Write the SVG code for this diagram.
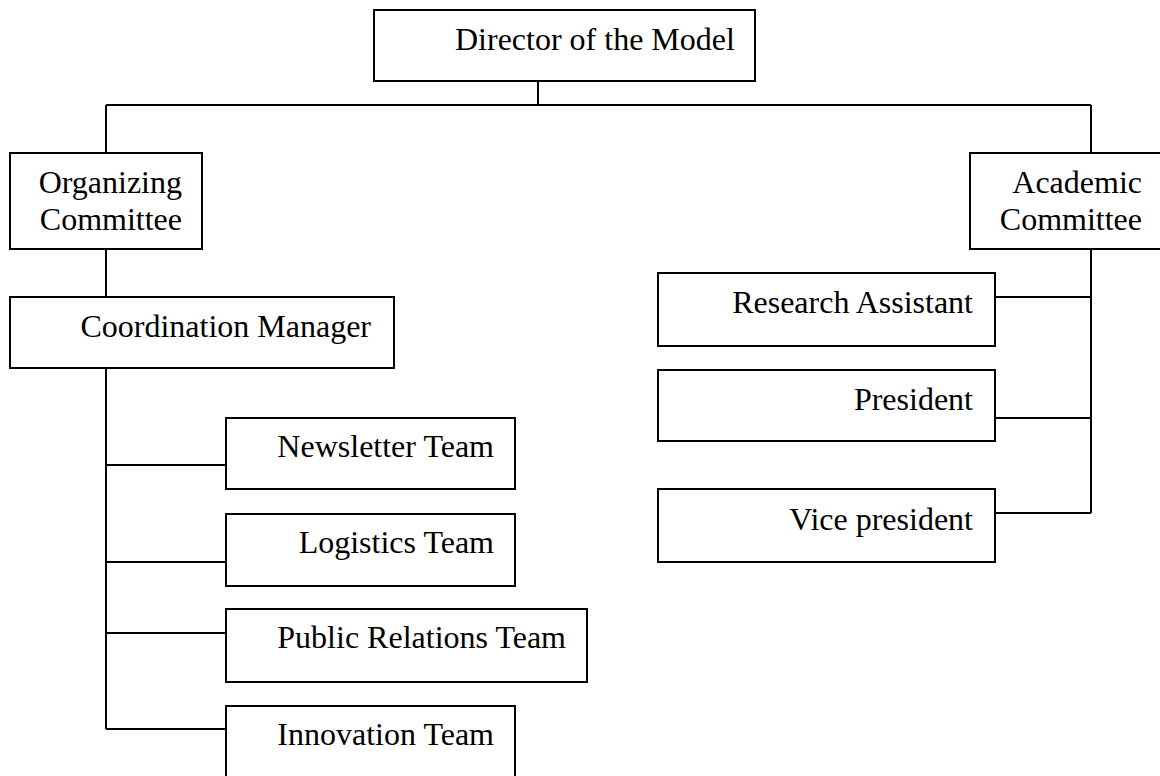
<svg xmlns="http://www.w3.org/2000/svg" width="1160" height="776" viewBox="0 0 1160 776">
<style>
.box{fill:#fff;stroke:#000;stroke-width:2}
.ln{fill:none;stroke:#000;stroke-width:2}
text{font-family:"Liberation Serif","Times New Roman",serif;font-size:32px;fill:#000}
.e{text-anchor:end}
</style>
<rect width="1160" height="776" fill="#fff"/>
<g id="connectors" class="ln">
<path d="M538,81V105M106,105H1091M106,105V153M1091,105V153"/>
<path d="M106,249V297"/>
<path d="M106,368V729M106,465H226M106,562H226M106,633H226M106,729H226"/>
<path d="M1091,249V513M995,297H1091M995,418H1091M995,513H1091"/>
</g>
<g id="director"><rect class="box" x="374" y="10" width="381" height="71"/><text x="455" y="50">Director of the Model</text></g>
<g id="organizing"><rect class="box" x="10" y="153" width="192" height="96"/><text class="e" x="182" y="193">Organizing</text><text class="e" x="182" y="230">Committee</text></g>
<g id="academic"><rect class="box" x="970" y="153" width="192" height="96"/><text class="e" x="1142" y="193">Academic</text><text class="e" x="1142" y="230">Committee</text></g>
<g id="coordination"><rect class="box" x="10" y="297" width="384" height="71"/><text class="e" x="371" y="337">Coordination Manager</text></g>
<g id="research"><rect class="box" x="658" y="273" width="337" height="73"/><text class="e" x="973" y="313">Research Assistant</text></g>
<g id="president"><rect class="box" x="658" y="370" width="337" height="71"/><text class="e" x="973" y="410">President</text></g>
<g id="vice"><rect class="box" x="658" y="489" width="337" height="73"/><text class="e" x="973" y="530">Vice president</text></g>
<g id="newsletter"><rect class="box" x="226" y="418" width="289" height="71"/><text class="e" x="494" y="457">Newsletter Team</text></g>
<g id="logistics"><rect class="box" x="226" y="514" width="289" height="72"/><text class="e" x="494" y="553">Logistics Team</text></g>
<g id="public"><rect class="box" x="226" y="609" width="361" height="73"/><text class="e" x="566" y="648">Public Relations Team</text></g>
<g id="innovation"><rect class="box" x="226" y="706" width="289" height="80"/><text class="e" x="494" y="745">Innovation Team</text></g>
</svg>
